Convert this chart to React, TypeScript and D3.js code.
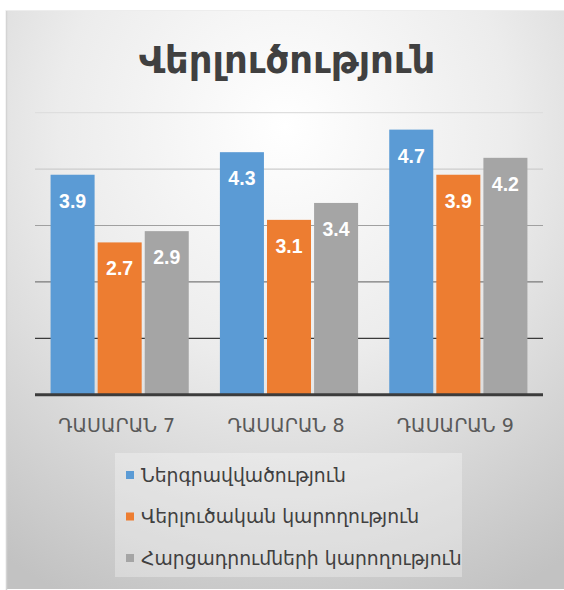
import React from "react";
import * as d3 from "d3";

const title = "Վերլուծություն";
const categories = ["ԴԱՍԱՐԱՆ 7", "ԴԱՍԱՐԱՆ 8", "ԴԱՍԱՐԱՆ 9"];
const seriesNames = [
  "Ներգրավվածություն",
  "Վերլուծական կարողություն",
  "Հարցադրումների կարողություն",
];
const seriesColors = ["#5B9BD5", "#ED7D31", "#A5A5A5"];
const engagement = [3.9, 4.3, 4.7];
const analytical = [2.7, 3.1, 3.9];
const questioning = [2.9, 3.4, 4.2];
const yTicks = [0, 1, 2, 3, 4, 5];

const seriesValues = [engagement, analytical, questioning];

const W = 564;
const H = 590;
const plot = { left: 35, right: 543, top: 112.7, bottom: 394.7 };
const ARM = "'DejaVu Sans', 'Noto Sans', sans-serif";

export default function App() {
  const x0 = d3
    .scaleBand<string>()
    .domain(categories)
    .range([plot.left, plot.right])
    .paddingInner(0.184)
    .paddingOuter(0.092);
  const x1 = d3
    .scaleBand<string>()
    .domain(seriesNames)
    .range([0, x0.bandwidth()])
    .paddingInner(0.065);
  const y = d3.scaleLinear().domain([0, 5]).range([plot.bottom, plot.top]);
  const gridColor = d3
    .scaleLinear<string>()
    .domain([1, 2, 3, 4, 5])
    .range(["#3a3a3a", "#7a7a7a", "#a0a0a0", "#cccccc", "#dedede"]);

  return (
    <svg
      width={W}
      height={H}
      style={{ position: "absolute", left: 0, top: 0, display: "block" }}
    >
      <defs>
        <radialGradient id="bg" cx="50%" cy="20%" r="90%" fx="50%" fy="20%">
          <stop offset="0" stopColor="#ffffff" />
          <stop offset="0.45" stopColor="#ececec" />
          <stop offset="1" stopColor="#c2c2c2" />
        </radialGradient>
      </defs>
      <rect x={0} y={0} width={W} height={H} fill="#ffffff" />
      <rect x={6} y={10} width={W - 6} height={H - 11} fill="url(#bg)" />
      <line x1={6.5} y1={10} x2={6.5} y2={H} stroke="#d4d4d4" strokeWidth={1.5} />
      <line x1={6} y1={10.5} x2={W} y2={10.5} stroke="#ededed" strokeWidth={1} />

      <text
        x={287}
        y={73}
        textAnchor="middle"
        fontFamily={ARM}
        fontWeight="bold"
        fontSize={37}
        fill="#404040"
      >
        {title}
      </text>

      {yTicks
        .filter((t) => t > 0)
        .map((t) => (
          <line
            key={t}
            x1={plot.left}
            x2={plot.right}
            y1={y(t)}
            y2={y(t)}
            stroke={gridColor(t)}
            strokeWidth={1.2}
          />
        ))}

      {categories.map((c, ci) => (
        <g key={c} transform={`translate(${x0(c)},0)`}>
          {seriesNames.map((s, si) => {
            const v = seriesValues[si][ci];
            const bx = x1(s)!;
            return (
              <g key={s}>
                <rect
                  x={bx}
                  y={y(v)}
                  width={x1.bandwidth()}
                  height={y(0) - y(v)}
                  fill={seriesColors[si]}
                />
                <text
                  x={bx + x1.bandwidth() / 2}
                  y={y(v) + 33}
                  textAnchor="middle"
                  fontFamily="'Liberation Sans', Arial, sans-serif"
                  fontWeight="bold"
                  fontSize={19.5}
                  fill="#ffffff"
                >
                  {v.toFixed(1)}
                </text>
              </g>
            );
          })}
        </g>
      ))}

      <line
        x1={plot.left}
        x2={plot.right}
        y1={y(0)}
        y2={y(0)}
        stroke="#3c3c3c"
        strokeWidth={3}
      />

      {categories.map((c) => (
        <text
          key={c}
          x={x0(c)! + x0.bandwidth() / 2 - 3}
          y={432}
          textAnchor="middle"
          fontFamily={ARM}
          fontSize={19}
          fill="#595959"
        >
          {c}
        </text>
      ))}

      <rect x={115} y={453} width={347} height={124} fill="#ffffff" opacity={0.3} />
      {seriesNames.map((s, i) => {
        const cy = 475 + i * 41.5;
        return (
          <g key={s}>
            <rect x={126} y={cy - 4} width={8} height={8} fill={seriesColors[i]} />
            <text
              x={141}
              y={cy + 6.5}
              fontFamily={ARM}
              fontSize={18.8}
              fill="#404040"
            >
              {s}
            </text>
          </g>
        );
      })}
    </svg>
  );
}
